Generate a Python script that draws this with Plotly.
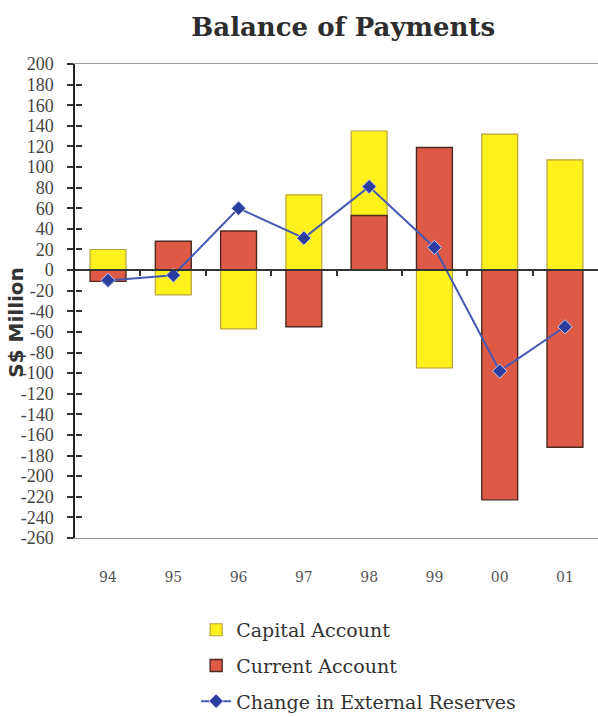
import plotly.graph_objects as go

# Balance of payments, S$ million
years = ["94", "95", "96", "97", "98", "99", "00", "01"]
capital_account = [20, -24, -57, 73, 135, -95, 132, 107]
current_account = [-11, 28, 38, -55, 53, 119, -223, -172]
reserve_change = [-10, -5, 60, 31, 81, 22, -98, -55]

y_ticks = list(range(-260, 201, 20))
y_tick_text = [str(v) for v in y_ticks]
y_min, y_max = -260, 200

serif = "DejaVu Serif"

fig = go.Figure()

fig.add_trace(go.Bar(
    x=years, y=capital_account, name="Capital Account",
    marker=dict(color="#fff21c", line=dict(color="#b9a23a", width=1.2)),
    width=0.55, legendgroup="cap",
))
fig.add_trace(go.Bar(
    x=years, y=current_account, name="Current Account",
    marker=dict(color="#df5a46", line=dict(color="#4d2a20", width=1.4)),
    width=0.55, legendgroup="cur",
))
fig.add_trace(go.Scatter(
    x=years, y=reserve_change, name="Change in External Reserves",
    mode="lines+markers",
    line=dict(color="#4659b3", width=2),
    marker=dict(symbol="diamond", size=11, color="#2b3d9e",
                line=dict(color="#c9d0ee", width=1)),
    legendgroup="res",
))

# helper trace for the overlay axes (category boundary ticks, crossing y ticks)
fig.add_trace(go.Scatter(
    x=[-0.5, len(years) - 0.5], y=[y_min, y_max], xaxis="x2", yaxis="y2",
    mode="markers", marker=dict(opacity=0), showlegend=False, hoverinfo="skip",
))

zero_pos = (0 - y_min) / (y_max - y_min)
boundaries = [i + 0.5 for i in range(len(years) - 1)]

fig.update_layout(
    width=598, height=717,
    margin=dict(l=75, r=0, t=64, b=179, autoexpand=False),
    paper_bgcolor="white", plot_bgcolor="white",
    barmode="overlay",
    showlegend=True,
    title=dict(text="<b>Balance of Payments</b>", xref="container", yref="container",
               x=0.574, y=0.963, xanchor="center", yanchor="middle",
               font=dict(family=serif, size=26, color="#2e2e2e")),
    font=dict(family=serif, color="#333"),
    xaxis=dict(
        domain=[0, 1], anchor="y",
        type="category", showgrid=False, showline=True, mirror=True,
        linecolor="#9a9a9a", linewidth=1, ticks="", zeroline=False,
        tickfont=dict(family=serif, size=14, color="#555"),
        ticklabelstandoff=26, tickangle=0,
    ),
    xaxis2=dict(
        overlaying="x", anchor="free", position=zero_pos,
        range=[-0.5, len(years) - 0.5], showgrid=False, zeroline=False,
        showline=True, linecolor="#333", linewidth=1.5,
        tickvals=boundaries, ticks="outside", ticklen=5, tickwidth=2,
        tickcolor="#333", showticklabels=False,
    ),
    yaxis=dict(
        domain=[0, 1], anchor="x",
        range=[y_min, y_max], tickvals=y_ticks, ticktext=y_tick_text,
        showgrid=False, zeroline=False,
        showline=True, linecolor="#222", linewidth=1.5,
        ticks="outside", ticklen=6, tickwidth=2, tickcolor="#333",
        tickfont=dict(family="Liberation Serif", size=18, color="#444"),
        ticklabelstandoff=10,
    ),
    yaxis2=dict(
        overlaying="y", side="left", anchor="free", position=0,
        range=[y_min, y_max],
        tickvals=y_ticks, showgrid=False, zeroline=False, showline=False,
        ticks="inside", ticklen=6, tickwidth=2, tickcolor="#333",
        showticklabels=False,
    ),
    legend=dict(
        orientation="v", xref="container", yref="container",
        x=0.328, y=0.148, xanchor="left", yanchor="top",
        traceorder="grouped", tracegroupgap=8,
        font=dict(family=serif, size=19, color="#333"),
        bgcolor="rgba(0,0,0,0)",
    ),
    annotations=[dict(
        text="<b>S$ Million</b>", textangle=-90, xref="paper", yref="paper",
        x=-0.112, y=0.455, xanchor="center", yanchor="middle", showarrow=False,
        font=dict(family="DejaVu Sans", size=20, color="#333"),
    )],
)

fig.write_html("out.html")
